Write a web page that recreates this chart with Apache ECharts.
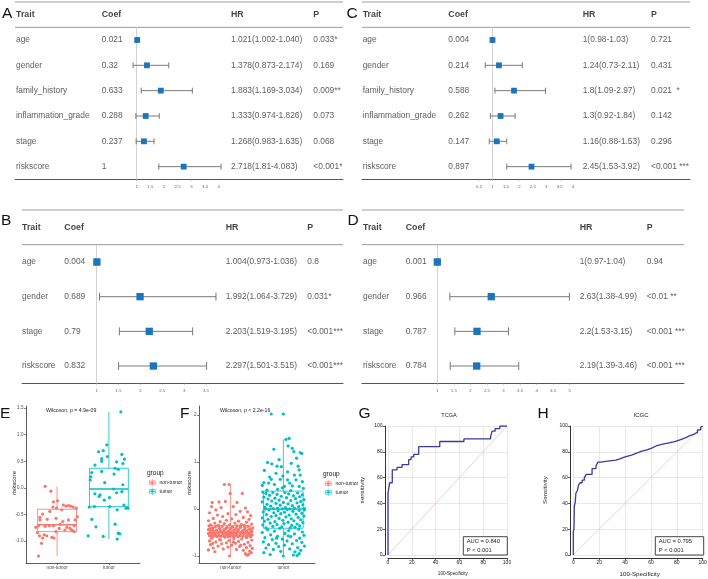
<!DOCTYPE html>
<html><head><meta charset="utf-8">
<script src="https://cdn.jsdelivr.net/npm/echarts@6/dist/echarts.min.js"></script>
<style>html,body{margin:0;padding:0;background:#fff}#c{width:708px;height:579px}</style>
</head><body><div id="c"></div>
<script>
// ---------- DATA ----------
// Panel A (univariate, TCGA)
const traitsA = ['age','gender','family_history','inflammation_grade','stage','riskscore'];
const coefA = ['0.021','0.32','0.633','0.288','0.237','1'];
const hrA = ['1.021','1.378','1.883','1.333','1.268','2.718'];
const loA = ['1.002','0.873','1.169','0.974','0.983','1.81'];
const hiA = ['1.040','2.174','3.034','1.826','1.635','4.083'];
const pA = ['0.033*','0.169','0.009**','0.073','0.068','<0.001*'];
const ticksA = [1,1.5,2,2.5,3,3.5,4];
// Panel C (univariate, ICGC)
const traitsC = ['age','gender','family_history','inflammation_grade','stage','riskscore'];
const coefC = ['0.004','0.214','0.588','0.262','0.147','0.897'];
const hrC = ['1','1.24','1.8','1.3','1.16','2.45'];
const loC = ['0.98','0.73','1.09','0.92','0.88','1.53'];
const hiC = ['1.03','2.11','2.97','1.84','1.53','3.92'];
const pC = ['0.721','0.431','0.021  *','0.142','0.296','<0.001 ***'];
const ticksC = [0.5,1,1.5,2,2.5,3,3.5,4];
// Panel B (multivariate, TCGA)
const traitsB = ['age','gender','stage','riskscore'];
const coefB = ['0.004','0.689','0.79','0.832'];
const hrB = ['1.004','1.992','2.203','2.297'];
const loB = ['0.973','1.064','1.519','1.501'];
const hiB = ['1.036','3.729','3.195','3.515'];
const pB = ['0.8','0.031*','<0.001***','<0.001***'];
const ticksB = [1,1.5,2,2.5,3,3.5];
// Panel D (multivariate, ICGC)
const traitsD = ['age','gender','stage','riskscore'];
const coefD = ['0.001','0.966','0.787','0.784'];
const hrD = ['1','2.63','2.2','2.19'];
const loD = ['0.97','1.38','1.53','1.39'];
const hiD = ['1.04','4.99','3.15','3.46'];
const pD = ['0.94','<0.01 **','<0.001 ***','<0.001 ***'];
const ticksD = [1,1.5,2,2.5,3,3.5,4,4.5,5];

// Panels E/F boxplots
const groups = ['non-tumor','tumor'];
const eTicks = [-1,-0.5,0,0.5,1,1.5];
const fTicks = [-1,0,1,2];
// [min, Q1, median, Q3, max]
const eBoxNon = [-1.28,-0.82,-0.69,-0.40,0.03];
const eBoxTum = [-0.96,-0.35,-0.02,0.37,1.43];
const fBoxNon = [-1.0,-0.59,-0.50,-0.35,0.52];
const fBoxTum = [-1.0,-0.41,0.0,0.38,1.48];
// points: [jitter, riskscore]
const ePtsNon = [[-0.23,0.03],[-0.12,-0.06],[-0.07,-0.26],[0.01,-0.24],[-0.08,-0.36],[-0.14,-0.44],[-0.28,-0.49],[-0.33,-0.55],[-0.33,-0.6],[-0.19,-0.59],[-0.02,-0.57],[0.09,-0.41],[0.12,-0.32],[0.17,-0.34],[0.22,-0.33],[0.26,-0.34],[0.31,-0.36],[0.37,-0.38],[0.39,-0.54],[0.35,-0.6],[0.22,-0.6],[0.11,-0.63],[0.06,-0.68],[-0.07,-0.71],[-0.15,-0.71],[-0.23,-0.72],[-0.36,-0.71],[-0.41,-0.74],[-0.38,-0.84],[-0.34,-0.9],[-0.28,-0.94],[-0.2,-0.9],[-0.1,-0.93],[-0.06,-0.94],[-0.3,-1.04],[-0.36,-1.28],[-0.02,-0.82],[0.19,-0.74],[0.25,-0.76],[0.3,-0.8],[0.33,-0.82],[0.28,-0.79],[0.15,-0.79],[0.04,-0.76],[-0.25,-0.88],[-0.01,-0.38],[0.33,-0.71]];
const ePtsTum = [[-0.2,0.68],[-0.11,0.70],[-0.04,0.81],[-0.03,0.59],[-0.27,0.43],[0.25,0.63],[0.3,0.54],[0.15,0.49],[0.27,0.46],[-0.14,0.31],[0.12,0.37],[0.18,0.35],[-0.33,0.29],[-0.35,0.21],[-0.36,0.15],[-0.08,0.1],[0.1,0.26],[0.27,0.06],[0.09,-0.02],[-0.27,-0.11],[-0.17,-0.13],[-0.09,-0.23],[0.01,-0.18],[-0.19,-0.16],[0.15,-0.09],[-0.28,-0.35],[-0.38,-0.36],[0.33,-0.38],[0.37,-0.38],[0.16,-0.41],[-0.33,-0.59],[-0.25,-0.73],[-0.4,-0.9],[-0.11,-0.91],[0.12,-0.68],[0.18,-0.85],[0.21,-0.86],[0.16,-0.96],[0.25,-0.07],[0.29,-0.32],[0.02,-0.35],[0.23,1.43],[-0.14,0.55],[-0.14,0.5]];
const fPtsNon = [[-0.12,0.52],[-0.03,0.52],[0.22,0.33],[-0.01,0.33],[-0.35,0.14],[-0.22,0.15],[-0.1,0.16],[0.12,0.14],[-0.36,0.05],[0.05,0.05],[-0.18,0.03],[0.28,0.02],[-0.28,-0.02],[0.18,-0.05],[0.32,-0.06],[-0.4,-0.08],[-0.05,-0.1],[0.1,-0.12],[-0.25,-0.13],[0.38,-0.14],[-0.15,-0.16],[0.24,-0.18],[-0.33,-0.2],[0.02,-0.21],[0.35,-0.22],[-0.08,-0.24],[-0.42,-0.25],[0.15,-0.26],[-0.2,-0.27],[0.3,-0.28],[-0.3,-0.3],[0.08,-0.3],[-0.12,-0.31],[0.4,-0.32],[0.2,-0.33],[-0.38,-0.34],[-0.02,-0.34],[0.26,-0.35],[-0.24,-0.35],[0.12,-0.36],
[-0.41,-0.36],[-0.16,-0.37],[0.33,-0.37],[0.04,-0.38],[-0.29,-0.38],[0.19,-0.39],[-0.07,-0.39],[0.42,-0.4],[-0.35,-0.4],[0.1,-0.41],[-0.21,-0.41],[0.27,-0.42],[-0.01,-0.42],[-0.4,-0.43],[0.36,-0.43],[-0.13,-0.44],[0.15,-0.44],[-0.27,-0.45],[0.06,-0.45],[0.31,-0.46],[-0.33,-0.46],[-0.05,-0.47],[0.22,-0.47],[-0.19,-0.48],[0.4,-0.48],[0.0,-0.48],[-0.38,-0.49],[0.13,-0.49],[-0.1,-0.5],[0.29,-0.5],[-0.24,-0.5],[0.08,-0.51],[0.37,-0.51],[-0.31,-0.51],[-0.03,-0.52],[0.19,-0.52],[-0.42,-0.52],[-0.15,-0.53],[0.25,-0.53],[0.03,-0.53],[-0.36,-0.54],[0.34,-0.54],[-0.08,-0.54],[0.11,-0.55],[-0.22,-0.55],[0.41,-0.55],[-0.28,-0.56],[0.17,-0.56],[-0.01,-0.56],[0.3,-0.57],[-0.4,-0.57],[-0.12,-0.57],[0.07,-0.58],[0.23,-0.58],[-0.33,-0.58],[-0.18,-0.58],[0.38,-0.59],[-0.05,-0.59],[0.14,-0.59],[-0.26,-0.59],[0.01,-0.4],[-0.2,-0.44],[0.24,-0.46],[-0.37,-0.48],[0.09,-0.53],[0.33,-0.56],[-0.09,-0.42],[0.18,-0.38],[-0.3,-0.54],[0.39,-0.45],[-0.14,-0.49],[0.05,-0.57],[-0.23,-0.36],[0.27,-0.39],[-0.42,-0.44],[0.12,-0.47],[-0.06,-0.55],[0.2,-0.5],[-0.34,-0.41],[0.35,-0.52],
[-0.11,-0.6],[0.3,-0.61],[-0.36,-0.62],[0.06,-0.63],[0.21,-0.64],[-0.21,-0.65],[0.4,-0.66],[-0.03,-0.67],[-0.4,-0.68],[0.15,-0.69],[-0.28,-0.7],[0.33,-0.71],[-0.08,-0.72],[0.09,-0.73],[-0.17,-0.74],[0.26,-0.75],[-0.38,-0.76],[0.02,-0.77],[0.37,-0.78],[-0.24,-0.79],[0.17,-0.8],[-0.05,-0.81],[0.3,-0.82],[-0.33,-0.83],[0.41,-0.84],[-0.14,-0.85],[0.11,-0.86],[-0.42,-0.87],[0.24,-0.88],[0.36,-0.9],[-0.3,-0.91],[0.39,-0.93],[0.28,-0.95],[0.34,-0.97],[-0.02,-1.0],[0.31,-0.98],[-0.19,-0.66],[0.05,-0.7],[-0.34,-0.73],[0.19,-0.77]];
const fPtsTum = [[0.05,1.48],[0.11,1.5],[0.09,1.34],[0.17,1.29],[0.2,1.22],[0.32,1.2],[0.35,1.18],[-0.18,1.27],[-0.3,0.99],[-0.22,0.96],[-0.12,0.91],[-0.04,0.9],[0.15,0.97],[0.28,0.91],[0.3,0.83],[0.08,0.79],[-0.36,0.82],[-0.14,0.76],[-0.01,0.7],[0.21,0.72],[0.32,0.72],[-0.23,0.63],[-0.06,0.63],[0.08,0.62],[0.24,0.62],[-0.37,0.56],[-0.28,0.55],[-0.17,0.52],[0.02,0.48],[0.17,0.49],[0.3,0.48],[-0.31,0.4],[-0.11,0.42],[0.14,0.39],[0.38,0.44],[-0.4,0.5],[0.36,0.58],[-0.08,1.05],[0.25,1.08],[-0.26,0.68],[0.12,0.55],[-0.02,0.45],
[-0.39,0.36],[-0.2,0.35],[0.03,0.35],[0.27,0.34],[-0.33,0.33],[0.1,0.32],[-0.12,0.31],[0.36,0.3],[-0.26,0.29],[0.19,0.28],[-0.04,0.27],[0.31,0.26],[-0.37,0.25],[0.06,0.24],[-0.16,0.23],[0.23,0.22],[-0.29,0.21],[0.39,0.2],[-0.08,0.19],[0.14,0.18],[-0.22,0.17],[0.33,0.16],[-0.4,0.15],[0.0,0.14],[0.26,0.13],[-0.14,0.12],[0.09,0.11],[-0.31,0.1],[0.37,0.09],[-0.06,0.08],[0.17,0.07],[-0.24,0.06],[0.29,0.05],[-0.35,0.04],[0.04,0.03],[-0.11,0.02],[0.21,0.02],[0.4,0.01],[-0.19,0.01],[-0.02,0.0],[0.12,0.0],[-0.34,0.0],
[0.07,-0.01],[-0.27,-0.02],[0.3,-0.03],[-0.1,-0.04],[0.18,-0.05],[-0.38,-0.06],[0.02,-0.07],[-0.18,-0.08],[0.35,-0.09],[-0.05,-0.1],[0.24,-0.11],[-0.32,-0.12],[0.11,-0.13],[-0.14,-0.14],[0.39,-0.15],[-0.23,-0.16],[0.05,-0.17],[0.28,-0.18],[-0.4,-0.19],[-0.08,-0.2],[0.15,-0.21],[-0.29,-0.22],[0.33,-0.23],[-0.01,-0.24],[0.2,-0.25],[-0.36,-0.26],[-0.16,-0.27],[0.09,-0.28],[0.37,-0.29],[-0.25,-0.3],[0.01,-0.31],[0.26,-0.32],[-0.12,-0.33],[-0.39,-0.34],[0.16,-0.35],[0.31,-0.36],[-0.2,-0.37],[-0.03,-0.38],[0.22,-0.39],[-0.33,-0.4],[0.13,-0.4],[0.4,-0.02],
[-0.07,-0.41],[0.29,-0.43],[-0.3,-0.44],[0.1,-0.46],[-0.17,-0.47],[0.36,-0.49],[-0.4,-0.5],[0.03,-0.52],[0.21,-0.53],[-0.24,-0.55],[0.39,-0.56],[-0.11,-0.58],[0.14,-0.59],[-0.35,-0.61],[0.31,-0.62],[-0.02,-0.64],[-0.21,-0.65],[0.25,-0.67],[0.07,-0.68],[-0.38,-0.7],[0.35,-0.71],[-0.14,-0.73],[0.17,-0.74],[-0.28,-0.76],[0.02,-0.77],[0.4,-0.79],[-0.09,-0.8],[0.27,-0.82],[-0.33,-0.83],[0.12,-0.85],[-0.19,-0.86],[0.33,-0.88],[-0.05,-0.9],[0.22,-0.91],[-0.37,-0.93],[0.3,-0.95],[-0.25,-0.97],[0.19,-0.98],[0.0,-1.0],[0.26,-0.99],[-0.13,-0.62],[0.09,-0.57],
[-0.23,2.02],[0.0,2.02]];

// Panels G/H ROC: [100-Specificity, Sensitivity]
const rocTicks = [0,20,40,60,80,100];
const rocTCGA = [[0,0],[0,48],[1.4,48],[1.4,56],[3.6,56],[3.6,66],[7.6,66],[7.6,68],[11.8,68],[11.8,70],[17.4,70],[17.4,74],[19.4,74],[19.4,76],[21.6,76],[21.6,78],[25.8,78],[25.8,84],[43.5,84],[43.5,88],[63.8,88],[63.8,90],[86.2,90],[86.2,92],[87.5,92],[87.5,96],[90,96],[90,98],[94,98],[94,100],[100,100]];
const rocICGC = [[0,0],[0,18],[0.5,18],[0.5,20],[0.8,20],[0.8,38],[1.5,38],[1.5,41],[2,41],[2,48],[3.2,48],[3.2,50],[4,50],[4,54],[5.2,54],[5.2,56],[6.8,56],[6.8,58],[8.5,58],[8.5,60],[10,60],[10,62.5],[14.5,62.5],[14.5,67],[17.5,67],[17.5,69],[19,69],[19,72],[21,72],[21,73],[28,73],[28,73.5],[33,73.5],[33,74.5],[36,74.5],[36,76],[40,76],[40,77.5],[45,77.5],[45,79],[49,79],[49,80.5],[53,80.5],[53,81.5],[57,81.5],[57,83],[61,83],[61,84.5],[64,84.5],[64,86],[69,86],[69,87],[74,87],[74,88],[79,88],[79,89.5],[83,89.5],[83,91],[87,91],[87,92.5],[90,92.5],[90,93.5],[93,93.5],[93,95],[96,95],[96,97],[98.5,97],[98.5,99],[100,99],[100,100]];
const diagonal = [[0,0],[100,100]];
const aucTCGA = ['AUC = 0.840','P < 0.001'];
const aucICGC = ['AUC = 0.795','P < 0.001'];

// ---------- BUILD ----------
const FONT = '"Liberation Sans", Arial, Helvetica, sans-serif';
const chart = echarts.init(document.getElementById('c'), null, {renderer:'canvas', width:708, height:579});
const grid=[], xAxis=[], yAxis=[], series=[], graphic=[];
function addGrid(g, x, y){
  grid.push(Object.assign({containLabel:false, outerBoundsMode:'none'}, g));
  const i = grid.length-1;
  xAxis.push(Object.assign({gridIndex:i}, x));
  yAxis.push(Object.assign({gridIndex:i}, y));
  return i;
}
function txt(x, y, s, o){
  graphic.push({type:'text', x, y, silent:true, rotation:(o&&o.rot)||0,
    style:Object.assign({text:s, font:((o&&o.w)||'normal')+' '+((o&&o.fs)||8)+'px '+FONT,
      fill:(o&&o.c)||'#222', align:(o&&o.a)||'left', verticalAlign:'middle'}, {})});
}
function hline(x1,x2,y,c,w){ graphic.push({type:'line', silent:true, shape:{x1,y1:y,x2,y2:y}, style:{stroke:c,lineWidth:w}}); }

function forest(cfg){
  const n = cfg.traits.length, W = cfg.right-cfg.left;
  const gT = addGrid({left:cfg.left, top:cfg.top, width:W, height:cfg.band*(n+1)},
    {type:'value', min:0, max:W, axisLine:{show:true,onZero:false,lineStyle:{color:'#555',width:1}}, axisTick:{show:false}, axisLabel:{show:false}, splitLine:{show:false}},
    {type:'category', inverse:true, data:['header'].concat(cfg.traits), show:false});
  const textSeries = (data, bold) => ({type:'scatter', xAxisIndex:gT, yAxisIndex:gT, symbolSize:0, silent:true,
    itemStyle:{color:'rgba(0,0,0,0)'}, data,
    label:{show:true, position:'right', distance:0, formatter:p=>p.value[2], fontFamily:FONT,
      fontSize: bold?8.8:8.4, fontWeight: bold?'bold':'normal', color: bold?'#111':'#333'}});
  const c = cfg.cols;
  series.push(textSeries([[c[0],0,'Trait'],[c[1],0,'Coef'],[c[2],0,'HR'],[c[3],0,'P']], true));
  const body=[];
  cfg.traits.forEach((t,i)=>{
    body.push([c[0],i+1,t],[c[1],i+1,cfg.coef[i]],[c[2],i+1,cfg.hr[i]+'('+cfg.lo[i]+'-'+cfg.hi[i]+')'],[c[3],i+1,cfg.p[i]]);
  });
  series.push(textSeries(body,false));
  hline(cfg.left, cfg.right, cfg.top, '#9a9a9a', 1);
  hline(cfg.left, cfg.right, cfg.top+cfg.band, '#9a9a9a', 1);
  const fl = cfg.one-(1-cfg.min)*cfg.unit, fr = cfg.one+(cfg.max-1)*cfg.unit;
  const gF = addGrid({left:fl, top:cfg.top+cfg.band, width:fr-fl, height:cfg.band*n},
    {type:'value', min:cfg.min, max:cfg.max, axisLine:{show:false},
      axisTick:{show:true, customValues:cfg.ticks, length:2, lineStyle:{color:'#aaa',width:0.5}},
      axisLabel:{show:true, customValues:cfg.ticks, fontSize:4.3, color:'#666', margin:5.5, fontFamily:FONT, formatter:v=>String(v)},
      splitLine:{show:false}},
    {type:'category', inverse:true, data:cfg.traits, show:false});
  series.push({type:'custom', xAxisIndex:gF, yAxisIndex:gF, silent:true, z:2,
    data: cfg.traits.map((t,i)=>[+cfg.lo[i], +cfg.hi[i], i]), encode:{x:[0,1], y:2},
    renderItem:(params, api)=>{
      const a=api.coord([api.value(0), api.value(2)]), b=api.coord([api.value(1), api.value(2)]);
      const h=cfg.cap/2, st={stroke:'#7a7a7a', lineWidth:1};
      return {type:'group', children:[
        {type:'line', shape:{x1:a[0],y1:a[1],x2:b[0],y2:b[1]}, style:st},
        {type:'line', shape:{x1:a[0],y1:a[1]-h,x2:a[0],y2:a[1]+h}, style:st},
        {type:'line', shape:{x1:b[0],y1:b[1]-h,x2:b[0],y2:b[1]+h}, style:st}]};
    }});
  series.push({type:'scatter', xAxisIndex:gF, yAxisIndex:gF, silent:true, z:3, symbol:'rect', symbolSize:cfg.box,
    itemStyle:{color:'#1b75bc', opacity:1}, data: cfg.traits.map((t,i)=>[+cfg.hr[i], i]),
    markLine:{silent:true, symbol:'none', label:{show:false}, z:1, lineStyle:{color:'#d2d2d2', width:1, type:'solid'}, data:[{xAxis:1}]}});
}

forest({traits:traitsA, coef:coefA, hr:hrA, lo:loA, hi:hiA, p:pA, ticks:ticksA,
  left:15, right:343, top:2, band:25.33, cols:[1,86.7,216,298.3], one:136.6, unit:27.4, min:0.5, max:4.5, box:5.8, cap:6});
forest({traits:traitsC, coef:coefC, hr:hrC, lo:loC, hi:hiC, p:pC, ticks:ticksC,
  left:362, right:690, top:2, band:25.33, cols:[0.7,86.3,220.7,289], one:492.5, unit:26.9, min:0.5, max:4, box:5.8, cap:6});
forest({traits:traitsB, coef:coefB, hr:hrB, lo:loB, hi:hiB, p:pB, ticks:ticksB,
  left:22, right:343, top:210, band:34.67, cols:[0,42.3,203.7,285.3], one:96.7, unit:43.7, min:0.5, max:4, box:7.3, cap:8});
forest({traits:traitsD, coef:coefD, hr:hrD, lo:loD, hi:hiD, p:pD, ticks:ticksD,
  left:362, right:684, top:210, band:34.67, cols:[1,43.7,217.7,284.7], one:437.3, unit:33.1, min:0.5, max:5.5, box:7.3, cap:8});

// ----- E / F -----
const COL = ['#F8766D','#00BFC4'];
function boxPanel(g, yMin, yMax, ticks, fmt, boxes, pts){
  const gi = addGrid(g,
    {type:'value', min:0.4, max:2.6, axisLine:{show:true,onZero:false,lineStyle:{color:'#333',width:0.8}},
      axisTick:{show:true, customValues:[1,2], length:2, lineStyle:{color:'#333',width:0.6}},
      axisLabel:{show:true, customValues:[1,2], formatter:v=>groups[Math.round(v)-1], fontSize:4.6, color:'#4d4d4d', margin:2.5, fontFamily:FONT},
      splitLine:{show:false}},
    {type:'value', min:yMin, max:yMax, axisLine:{show:true,onZero:false,lineStyle:{color:'#333',width:0.8}},
      axisTick:{show:true, customValues:ticks, length:2, lineStyle:{color:'#333',width:0.6}},
      axisLabel:{show:true, customValues:ticks, formatter:fmt, fontSize:4.6, color:'#4d4d4d', margin:2.5, fontFamily:FONT},
      splitLine:{show:false}});
  series.push({type:'custom', xAxisIndex:gi, yAxisIndex:gi, silent:true, z:2,
    data: boxes.map((s,i)=>[i+1].concat(s)), encode:{x:0, y:[1,2,3,4,5]},
    renderItem:(params, api)=>{
      const x=api.value(0), c=COL[params.dataIndex];
      const hw=api.size([0.75,0])[0]/2;
      const P=v=>api.coord([x,v]);
      const mn=P(api.value(1)), q1=P(api.value(2)), md=P(api.value(3)), q3=P(api.value(4)), mx=P(api.value(5));
      const cx=md[0], st={stroke:c, lineWidth:0.8};
      return {type:'group', children:[
        {type:'line', shape:{x1:cx,y1:mx[1],x2:cx,y2:q3[1]}, style:st},
        {type:'line', shape:{x1:cx,y1:q1[1],x2:cx,y2:mn[1]}, style:st},
        {type:'rect', shape:{x:cx-hw,y:q3[1],width:2*hw,height:q1[1]-q3[1]}, style:{stroke:c,lineWidth:0.8,fill:'rgba(255,255,255,0)'}},
        {type:'line', shape:{x1:cx-hw,y1:md[1],x2:cx+hw,y2:md[1]}, style:{stroke:c,lineWidth:1.5}}]};
    }});
  pts.forEach((arr,k)=>{
    series.push({type:'scatter', xAxisIndex:gi, yAxisIndex:gi, silent:true, z:3, symbol:'circle', symbolSize:3.2,
      itemStyle:{color:COL[k], opacity:1}, data: arr.map(p=>[k+1+p[0], p[1]])});
  });
}
boxPanel({left:26, top:406, width:114, height:157}, -1.41, 1.54, eTicks, v=>v.toFixed(1), [eBoxNon,eBoxTum], [ePtsNon,ePtsTum]);
boxPanel({left:199, top:406, width:116, height:157}, -1.149, 2.19, fTicks, v=>String(v), [fBoxNon,fBoxTum], [fPtsNon,fPtsTum]);

function legend(x, y){
  txt(x, y, 'group', {fs:6.5, c:'#222'});
  groups.forEach((g,k)=>{
    const ky = y+6+k*8.7, kx = x+1.5, c = COL[k];
    graphic.push({type:'line', silent:true, shape:{x1:kx+3.8,y1:ky,x2:kx+3.8,y2:ky+7.3}, style:{stroke:c,lineWidth:0.6}});
    graphic.push({type:'rect', silent:true, shape:{x:kx+0.8,y:ky+1.8,width:6,height:3.7}, style:{stroke:c,lineWidth:0.6,fill:'#fff'}});
    graphic.push({type:'line', silent:true, shape:{x1:kx+0.8,y1:ky+3.65,x2:kx+6.8,y2:ky+3.65}, style:{stroke:c,lineWidth:0.8}});
    graphic.push({type:'circle', silent:true, shape:{cx:kx+3.8,cy:ky+3.65,r:1.3}, style:{fill:c}});
    txt(x+12.5, ky+3.65, g, {fs:5, c:'#222'});
  });
}
legend(147, 473);
legend(323, 474);
txt(46, 410.7, 'Wilcoxon, p = 4.9e-09', {fs:5.2});
txt(220, 410.7, 'Wilcoxon, p < 2.2e-16', {fs:5.2});
txt(14.7, 483, 'riskscore', {fs:6, a:'center', rot:Math.PI/2});
txt(189, 483, 'riskscore', {fs:6, a:'center', rot:Math.PI/2});

// ----- G / H ROC -----
function roc(g, data, name){
  const ax = {type:'value', min:0, max:100, interval:20, offset:3,
    axisLine:{show:true,onZero:false,lineStyle:{color:'#333',width:1}},
    axisTick:{show:true,length:2.5,lineStyle:{color:'#333',width:0.8}},
    axisLabel:{show:true,fontSize:5,color:'#222',margin:2.5,fontFamily:FONT},
    splitLine:{show:true,lineStyle:{color:'#e2e2e2',width:0.8}}};
  const gi = addGrid(g, Object.assign({}, ax), Object.assign({}, ax));
  series.push({type:'line', name:'ref', xAxisIndex:gi, yAxisIndex:gi, silent:true, symbol:'none', z:2,
    lineStyle:{color:'#e6baba', width:0.7}, data:diagonal});
  series.push({type:'line', name, xAxisIndex:gi, yAxisIndex:gi, silent:true, symbol:'none', z:3,
    lineStyle:{color:'#3a3a9e', width:1.3}, data});
}
roc({left:388, top:426, width:119, height:129}, rocTCGA, 'TCGA');
roc({left:573.3, top:426, width:129.4, height:129}, rocICGC, 'ICGC');
txt(449, 415, 'TCGA', {fs:5.6});
txt(641, 415, 'ICGC', {fs:6, a:'center'});
graphic[graphic.length-2].style.align = 'center';
txt(362, 490, 'sensitivity', {fs:6.2, a:'center', rot:Math.PI/2});
txt(545, 490, 'Sensitivity', {fs:6.2, a:'center', rot:Math.PI/2});
txt(452.8, 574, '100-Specificity', {fs:4.6, a:'center'});
txt(639.7, 574, '100-Specificity', {fs:6.2, a:'center'});
function aucBox(x1, x2, lines){
  graphic.push({type:'rect', silent:true, z:10, shape:{x:x1,y:536.7,width:x2-x1,height:18.3}, style:{fill:'#fff',stroke:'#444',lineWidth:1}});
  lines.forEach((s,i)=>{ graphic.push({type:'text', silent:true, z:11, x:x1+3.4, y:541.8+i*8.4,
    style:{text:s, font:'normal 5.8px '+FONT, fill:'#222', align:'left', verticalAlign:'middle'}}); });
}
aucBox(463.3, 507.3, aucTCGA);
aucBox(655.3, 703.7, aucICGC);

// panel letters
[['A',2,14],['C',346.5,14],['B',1,221],['D',347.5,221],['E',0,414],['F',180,414],['G',358.5,414],['H',537.5,414]]
  .forEach(l=>txt(l[1], l[2], l[0], {fs:15.5, c:'#111'}));

chart.setOption({animation:false, backgroundColor:'#fff', grid, xAxis, yAxis, series, graphic});
</script></body></html>
